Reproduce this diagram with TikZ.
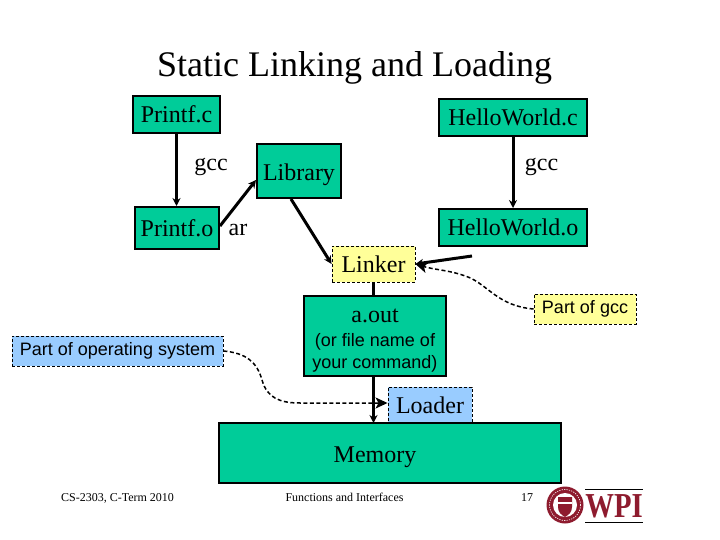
\documentclass[tikz,border=0pt]{standalone}
\usepackage{fontspec}
\usepackage{graphicx}
\setmainfont{Liberation Serif}
\setsansfont{Liberation Sans}
\usetikzlibrary{arrows.meta,calc}
\definecolor{boxgreen}{HTML}{00CC99}
\definecolor{noteyellow}{HTML}{FFFF99}
\definecolor{noteblue}{HTML}{99CCFF}
\definecolor{wpired}{HTML}{8E1B2E}
\newcommand{\bx}[6]{\node[#1,minimum width={(#4-#3)*1pt},minimum height={(#6-#5)*1pt}] (#2) at ({(#3+#4)/2},{(#5+#6)/2})}
\newcommand{\lowr}[2]{\raisebox{-#1pt}[0pt][0pt]{#2}}
\tikzset{
  x=1pt,y=-1pt,
  gbox/.style={draw=black,fill=boxgreen,line width=2pt,inner sep=0pt,font=\fontsize{24}{26}\selectfont,text=black},
  ynote/.style={draw=black,fill=noteyellow,line width=.9pt,dash pattern=on 3pt off 2pt,inner sep=0pt,font=\fontsize{24}{26}\selectfont},
  bnote/.style={draw=black,fill=noteblue,line width=.9pt,dash pattern=on 3pt off 2pt,inner sep=0pt,font=\fontsize{24}{26}\selectfont},
  smallsans/.style={font=\sffamily\fontsize{18}{20}\selectfont},
  lbl/.style={inner sep=0pt,font=\fontsize{24}{26}\selectfont},
  foot/.style={inner sep=0pt,font=\fontsize{12}{14}\selectfont},
  flow/.style={draw=black,line width=3pt,-{Stealth[length=8pt,width=8pt]}},
  plainflow/.style={draw=black,line width=3pt},
  dashflow/.style={draw=black,line width=1.5pt,dash pattern=on 4pt off 2.5pt,-{Stealth[length=12pt,width=11pt,inset=3pt]}},
}
\begin{document}
\begin{tikzpicture}
\useasboundingbox (0,0) rectangle (720,540);
\fill[white] (0,0) rectangle (720,540);
\node[inner sep=0pt,anchor=base,font=\fontsize{36}{38}\selectfont] (title) at (354.5,77) {Static Linking and Loading};

\bx{gbox}{pc}{133}{220}{96}{133} {Printf.c};
\bx{gbox}{po}{135}{219}{207}{249} {Printf.o};
\bx{gbox}{lib}{257}{341}{144}{198} {\lowr{9.5}{Library}};
\bx{gbox}{hc}{439}{587}{99}{136} {\lowr{8.5}{HelloWorld.c}};
\bx{gbox}{ho}{439}{587}{209}{246} {\lowr{8.5}{HelloWorld.o}};
\bx{gbox}{aout}{304}{446}{296}{376} {\lowr{-13.5}{a.out}};
\node[inner sep=0pt,align=center,font=\sffamily\fontsize{18}{22}\selectfont] (aoutnote) at (375,353) {(or file name of\\your command)};
\bx{ynote}{linker}{332}{415}{246}{282} {\lowr{8}{Linker}};
\bx{bnote}{loader}{388}{472}{387}{423} {\lowr{8.5}{Loader}};
\bx{ynote,smallsans}{pgcc}{534}{636}{294}{324} {Part of gcc};
\bx{bnote,smallsans}{pos}{12}{223}{336}{366} {Part of operating system};

\draw[plainflow] (linker.south) -- (linker.south |- aout.north);
\draw[flow] (linker.south |- aout.south) -- (linker.south |- 0,423);
\bx{gbox}{mem}{219}{561}{423}{483} {\hspace*{-30pt}\lowr{9}{Memory}};

\draw[flow] (pc.south) -- (pc.south |- po.north);
\draw[flow] (hc.south) -- (ho.north);
\draw[flow] (po.east |- 0,226) -- (lib.west |- 0,180);
\draw[flow] (lib.south) ++(-8,0) -- (linker.west);
\draw[flow] ($(ho.south)+(-41,9)$) -- (linker.east);
\draw[dashflow] (pgcc.west) .. controls (498,306) and (488,285) .. (468,277) .. controls (450,270) and (435,270) .. (linker.east);
\draw[dashflow] (pos.east) .. controls (246,353) and (257,362) .. (262,380) .. controls (267,398) and (280,403) .. (300,403) -- (loader.west |- 0,403);

\node[lbl,anchor=base] (g1) at (211,171) {gcc};
\node[lbl,anchor=base] (g2) at (541.5,171) {gcc};
\node[lbl,anchor=base] (ar) at (238,236) {ar};

\node[foot,anchor=base] (f1) at (117.5,501) {CS-2303, C-Term 2010};
\node[foot,anchor=base] (f2) at (344.5,501) {Functions and Interfaces};
\node[foot,anchor=base] (f3) at (527,501) {17};

% logo
\fill[wpired] (565,505) circle (18.5);
\fill[white] (565,505) circle (12);
\fill[wpired] (558,497) -- (572,497) -- (572,507) .. controls (572,513) and (568,515) .. (565,517) .. controls (562,515) and (558,513) .. (558,507) -- cycle;
\fill[white] (558,502) rectangle (572,504);
\draw[white,line width=.6pt,dash pattern=on 1.2pt off 1.2pt] (565,505) circle (15.5);
\draw[black,line width=.7pt] (585,489) -- (643,489);
\draw[black,line width=.7pt] (585,522) -- (643,522);
\node[inner sep=0pt,anchor=base,text=wpired,font=\bfseries\fontsize{35}{37}\selectfont] (wpi) at (614,517) {\scalebox{.82}[1]{WPI}};
\end{tikzpicture}
\end{document}
